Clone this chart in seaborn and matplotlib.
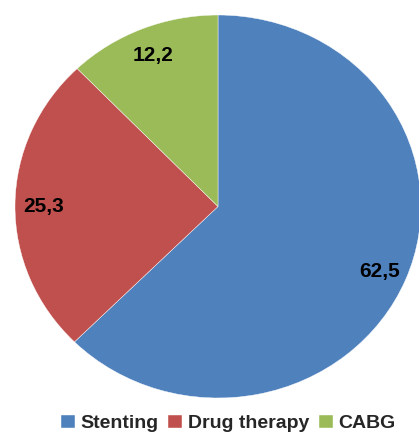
import matplotlib
matplotlib.use("Agg")
import matplotlib.pyplot as plt
import seaborn as sns

# Treatment shares (%)
CATEGORIES = ["Stenting", "Drug therapy", "CABG"]
SHARES = [62.5, 25.3, 12.2]
COLORS = ["#4F81BD", "#C0504D", "#9BBB59"]

sns.set_theme(style="white")
plt.rcParams["font.family"] = ["Liberation Sans", "DejaVu Sans"]

fig = plt.figure(figsize=(4.19, 4.34), dpi=100)
ax = fig.add_axes([15 / 419, 36 / 434, 406 / 419, 383 / 434])

palette = sns.color_palette(COLORS)
wedges, _, autotexts = ax.pie(
    SHARES,
    colors=palette,
    startangle=90,
    counterclock=False,
    autopct=lambda p: f"{p:.1f}".replace(".", ","),
    pctdistance=0.86,
    wedgeprops=dict(edgecolor="white", linewidth=0.3),
    textprops=dict(fontsize=15, fontweight="bold", color="black"),
)
for t in autotexts:
    t.set_va("center_baseline")
ax.set_aspect("auto")
ax.set_xlim(-1, 1)
ax.set_ylim(-1, 1)

fig.legend(
    wedges, CATEGORIES,
    loc="center", bbox_to_anchor=(0.545, 0.024),
    ncol=3, frameon=False,
    handlelength=0.7, handleheight=0.7,
    handletextpad=0.3, columnspacing=0.5,
    prop=dict(size=14, weight="bold"),
)

plt.savefig("out.png", dpi=100)
plt.close()
